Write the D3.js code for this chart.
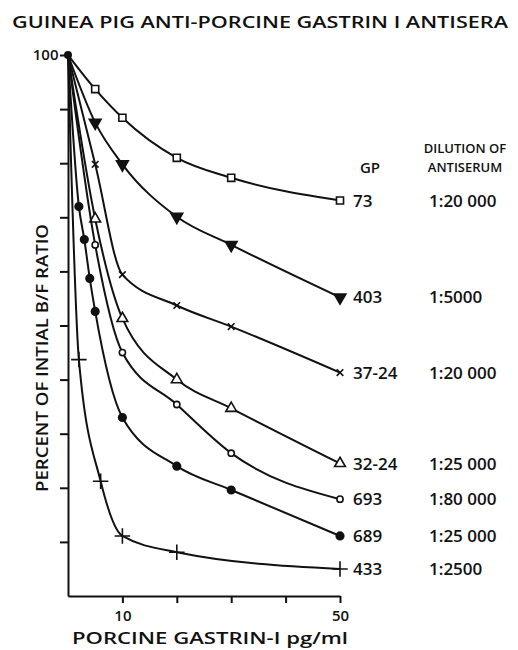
<!DOCTYPE html>
<html>
<head>
<meta charset="utf-8">
<script src="https://cdn.jsdelivr.net/npm/d3@7"></script>
<style>
  body { margin: 0; background: #fff; }
  svg text { font-family: "Open Sans", "DejaVu Sans", sans-serif; font-weight: 600; fill: #111; }
  .axis path, .axis line { stroke: #111; stroke-width: 2; }
</style>
</head>
<body>
<svg id="chart" width="518" height="650"></svg>
<script>
// dose of porcine gastrin-I (pg/ml) and percent of initial B/F ratio
const doses = [0, 5, 10, 20, 30, 50];
const doses689 = [0, 2, 3, 4, 5, 10, 20, 30, 50];
const doses433 = [0, 2, 6, 10, 20, 50];

const gp73 = [100, 93.7, 88.4, 81.0, 77.3, 73.1];
const gp403 = [100, 87.5, 79.8, 70.1, 64.9, 55.2];
const gp3724x = [100, 79.8, 59.4, 53.7, 49.8, 41.3];
const gp3224 = [100, 69.7, 51.3, 40.0, 34.7, 24.5];
const gp693 = [100, 64.9, 45.0, 35.4, 26.4, 17.9];
const gp689 = [100, 72.0, 65.9, 58.7, 52.6, 33.0, 24.0, 19.6, 11.1];
const gp433 = [100, 43.7, 21.2, 11.1, 8.1, 5.0];

const gpNames = ['73', '403', '37-24', '32-24', '693', '689', '433'];
const dilutions = ['1:20 000', '1:5000', '1:20 000', '1:25 000', '1:80 000', '1:25 000', '1:2500'];

const xTicks = [10, 20, 30, 40, 50];
const xTickLabels = ['10', '', '', '', '50'];
const yTicks = [10, 20, 30, 40, 50, 60, 70, 80, 90, 100];
const yTickLabels = ['', '', '', '', '', '', '', '', '', '100'];

// table for drawing, built from the arrays above
const series = [
  { name: gpNames[0], dil: dilutions[0], xs: doses, ys: gp73, sym: d3.symbolSquare, size: 50, filled: false },
  { name: gpNames[1], dil: dilutions[1], xs: doses, ys: gp403, sym: d3.symbolTriangle, size: 60, filled: true, flip: true },
  { name: gpNames[2], dil: dilutions[2], xs: doses, ys: gp3724x, sym: d3.symbolX, size: 30, filled: false, stroke: true },
  { name: gpNames[3], dil: dilutions[3], xs: doses, ys: gp3224, sym: d3.symbolTriangle, size: 50, filled: false },
  { name: gpNames[4], dil: dilutions[4], xs: doses, ys: gp693, sym: d3.symbolCircle, size: 30, filled: false },
  { name: gpNames[5], dil: dilutions[5], xs: doses689, ys: gp689, sym: d3.symbolCircle, size: 45, filled: true },
  { name: gpNames[6], dil: dilutions[6], xs: doses433, ys: gp433, sym: d3.symbolPlus, size: 80, filled: false, stroke: true }
];

const svg = d3.select('#chart');

const x = d3.scaleLinear().domain([0, 50]).range([68, 340]);
const y = d3.scaleLinear().domain([0, 100]).range([596, 55]);

// title
svg.append('text')
  .attr('x', 12)
  .attr('y', 28)
  .attr('font-size', 17)
  .attr('textLength', 496)
  .attr('lengthAdjust', 'spacingAndGlyphs')
  .text('GUINEA PIG ANTI-PORCINE GASTRIN I ANTISERA');

// axes
svg.append('g')
  .attr('class', 'axis')
  .attr('transform', 'translate(0,596)')
  .call(d3.axisBottom(x).tickValues(xTicks).tickSize(7).tickSizeOuter(0)
    .tickFormat((d, i) => xTickLabels[i]))
  .call(g => g.selectAll('text').attr('font-size', 15).attr('dy', '1.0em'));

svg.append('g')
  .attr('class', 'axis')
  .attr('transform', 'translate(68,0)')
  .call(d3.axisLeft(y).tickValues(yTicks).tickSize(8).tickSizeOuter(0)
    .tickFormat((d, i) => yTickLabels[i]))
  .call(g => g.selectAll('text').attr('font-size', 15).attr('dx', '0.1em'));

svg.selectAll('.axis .domain').attr('fill', 'none');

// axis titles
svg.append('text')
  .attr('x', 72)
  .attr('y', 644)
  .attr('font-size', 16)
  .attr('textLength', 276)
  .attr('lengthAdjust', 'spacingAndGlyphs')
  .text('PORCINE GASTRIN-I pg/ml');

svg.append('text')
  .attr('transform', 'translate(48,492) rotate(-90)')
  .attr('font-size', 17)
  .attr('textLength', 268)
  .attr('lengthAdjust', 'spacingAndGlyphs')
  .text('PERCENT OF INTIAL B/F RATIO');

// curves
const line = d3.line()
  .x(d => x(d[0]))
  .y(d => y(d[1]))
  .curve(d3.curveMonotoneX);

const plot = svg.append('g');

series.forEach(s => {
  const pts = s.xs.map((v, i) => [v, s.ys[i]]);
  plot.append('path')
    .datum(pts)
    .attr('d', line)
    .attr('fill', 'none')
    .attr('stroke', '#111')
    .attr('stroke-width', 2);

  // markers (skip the common origin point)
  plot.append('g')
    .selectAll('path')
    .data(pts.slice(1))
    .join('path')
    .attr('transform', d => `translate(${x(d[0])},${y(d[1])})${s.flip ? ' rotate(180)' : ''}`)
    .attr('d', d3.symbol(s.sym, s.size))
    .attr('fill', s.filled ? '#111' : (s.stroke ? 'none' : '#fff'))
    .attr('stroke', '#111')
    .attr('stroke-width', 1.6);

  // gp label and dilution at the end of each curve
  const last = pts[pts.length - 1];
  svg.append('text')
    .attr('x', 353)
    .attr('y', y(last[1]))
    .attr('dy', '0.36em')
    .attr('font-size', 17)
    .text(s.name);
  svg.append('text')
    .attr('x', 429)
    .attr('y', y(last[1]))
    .attr('dy', '0.36em')
    .attr('font-size', 17)
    .text(s.dil);
});

// common starting point
plot.append('path')
  .attr('transform', `translate(${x(0)},${y(100)})`)
  .attr('d', d3.symbol(d3.symbolCircle, 50))
  .attr('fill', '#111');

// column headers
svg.append('text')
  .attr('x', 370).attr('y', 173)
  .attr('text-anchor', 'middle')
  .attr('font-size', 15)
  .text('GP');
svg.append('text')
  .attr('x', 465).attr('y', 153)
  .attr('text-anchor', 'middle')
  .attr('font-size', 13)
  .text('DILUTION OF');
svg.append('text')
  .attr('x', 465).attr('y', 172)
  .attr('text-anchor', 'middle')
  .attr('font-size', 13)
  .text('ANTISERUM');
</script>
</body>
</html>
